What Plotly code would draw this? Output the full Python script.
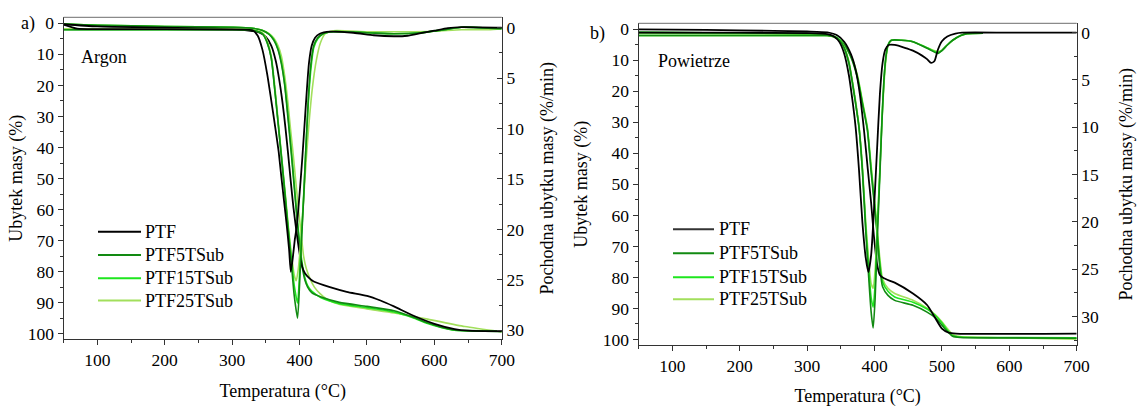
import plotly.graph_objects as go

# ---------------- data: panel a) Argon ----------------
names = ["PTF", "PTF5TSub", "PTF15TSub", "PTF25TSub"]
colors = ["#000000", "#128a12", "#1ee61e", "#a2df5c"]

# TG (mass loss, %), left axis
T_a_tg_ptf = [50, 100, 200, 300, 330, 340, 350, 358, 365, 370, 375, 379, 383, 387, 391, 396, 400, 404, 408, 414, 421, 445, 470, 500, 520, 540, 570, 600, 630, 650, 700]
TG_a_ptf = [0.3, 1.0, 1.4, 1.9, 2.5, 2.9, 4.4, 7.2, 12.4, 18.4, 26, 33.5, 42, 51, 59.5, 68, 74, 78.5, 80.5, 82, 83.2, 85, 86.5, 87.8, 89.3, 91.2, 94.3, 96.8, 98.5, 99.0, 99.2]
T_a_tg_g = [50, 100, 200, 300, 330, 345, 355, 362, 368, 373, 378, 383, 388, 392, 396, 400, 404, 408, 412, 418, 432, 459, 500, 540, 570, 590, 610, 630, 650, 700]
TG_a_5 = [0.2, 0.6, 1.0, 1.3, 1.6, 2.3, 3.6, 5.5, 8.5, 13, 20, 31, 42.5, 52.5, 62.5, 71.5, 78.5, 82.8, 85, 86.8, 88.2, 89.9, 91.2, 92.6, 94.8, 96.5, 97.9, 98.8, 99.0, 99.2]
TG_a_15 = [0.2, 0.6, 1.0, 1.3, 1.6, 2.3, 3.5, 5.3, 8.2, 12.5, 19.5, 30, 41.5, 51.5, 61.5, 70.5, 77.5, 82, 84.5, 86.3, 88.4, 90.3, 91.6, 93.0, 95.0, 96.7, 98.0, 98.9, 99.1, 99.3]
T_a_tg_25 = [50, 100, 200, 300, 330, 345, 355, 362, 368, 373, 378, 383, 386, 390, 394, 398, 402, 406, 410, 416, 422, 430, 440, 460, 500, 540, 590, 645, 700]
TG_a_25 = [0.2, 0.6, 1.0, 1.3, 1.6, 2.2, 3.3, 4.8, 7.2, 10.5, 17, 26, 32.8, 41, 50, 59, 67, 75, 79, 82.5, 85, 87, 88.8, 90.6, 92.0, 93.3, 95.3, 97.7, 99.4]

# DTG (derivative, %/min), right axis
T_a_dtg_ptf = [50, 70, 100, 200, 300, 330, 338, 345, 352, 358, 364, 369, 373, 377, 381, 384.5, 387, 390, 393, 396, 400, 404, 408, 411, 414, 418, 423, 430, 445, 480, 510, 540, 560, 580, 600, 620, 640, 700]
DTG_a_ptf = [-0.3, 0.1, 0.15, 0.15, 0.2, 0.25, 0.8, 2.2, 4.6, 7.2, 9.9, 12.3, 14.8, 17.2, 19.6, 22.0, 24.2, 22.8, 21.0, 19.6, 16.5, 13.0, 9.0, 6.0, 3.5, 1.8, 1.0, 0.6, 0.4, 0.5, 0.75, 0.85, 0.8, 0.55, 0.3, 0.05, -0.05, 0.0]
T_a_dtg_g = [50, 100, 200, 300, 330, 345, 352, 358, 363, 368.5, 374, 379, 383, 388, 392, 397, 400, 403, 406, 409, 413, 417, 421, 427, 435, 450, 500, 540, 580, 620, 640, 700]
DTG_a_5 = [0.2, 0.2, 0.2, 0.2, 0.25, 0.6, 1.5, 3.0, 6.0, 9.7, 13.5, 17.0, 20.0, 23.5, 26.5, 28.8, 25.5, 21.0, 17.0, 12.5, 7.0, 3.5, 1.8, 1.0, 0.6, 0.4, 0.5, 0.6, 0.5, 0.15, -0.05, 0.1]
DTG_a_15 = [0.2, 0.2, 0.2, 0.2, 0.25, 0.6, 1.5, 3.0, 6.0, 9.6, 13.3, 16.8, 19.7, 23.0, 25.5, 27.3, 24.5, 20.5, 16.8, 12.5, 7.5, 4.0, 2.0, 1.1, 0.6, 0.4, 0.5, 0.6, 0.5, 0.15, -0.05, 0.1]
T_a_dtg_25 = [50, 100, 200, 300, 330, 345, 352, 358, 363, 368.5, 374, 379, 383, 388, 392, 395, 398, 402, 406, 410, 414, 419, 425, 431, 438, 450, 500, 550, 600, 640, 680, 700]
DTG_a_25 = [0.1, 0.1, 0.15, 0.15, 0.2, 0.5, 1.3, 2.8, 5.6, 9.4, 13.2, 16.6, 19.5, 22.5, 24.5, 25.1, 24.0, 21.0, 17.0, 13.0, 9.5, 6.0, 3.2, 1.5, 0.6, 0.3, 0.4, 0.4, 0.35, 0.2, 0.2, 0.1]

# ---------------- data: panel b) Powietrze ----------------
T_b_tg_ptf = [50, 150, 250, 300, 330, 345, 355, 365, 372, 378, 384.4, 390, 395, 399, 404, 408, 414, 430, 457, 478, 489, 500, 510, 521, 700]
TG_b_ptf = [0.0, 0.2, 0.5, 0.7, 1.0, 2.0, 4.0, 8.0, 13, 20.5, 32.5, 45, 56, 66.4, 76, 79.2, 80.3, 81.7, 85.2, 88.9, 92.7, 96.5, 97.8, 98.1, 98.1]
T_b_tg_g = [50, 200, 300, 330, 345, 355, 365, 375, 382, 389.4, 395, 400, 404, 408, 412, 420, 430, 457, 478, 490, 500, 508, 516, 527, 600, 700]
TG_b_5 = [1.0, 1.2, 1.4, 1.8, 3.0, 5.0, 9.0, 16, 24, 32.5, 46, 57, 66.4, 77, 83, 85.8, 87.4, 89, 91.2, 93, 95.4, 97.4, 99, 99.4, 99.5, 99.6]
TG_b_15 = [1.0, 1.2, 1.4, 1.8, 2.8, 4.8, 8.6, 15.5, 23.5, 32, 45, 56, 65.5, 75.5, 81.5, 84.5, 86.3, 88, 90.2, 92.2, 94.6, 97, 98.8, 99.2, 99.4, 99.5]
TG_b_25 = [1.2, 1.4, 1.6, 2.0, 3.0, 4.8, 8.4, 15, 23, 31.5, 44, 55, 64.5, 74, 80.5, 83.5, 85.2, 87.4, 89.9, 92, 94.3, 96.5, 98.4, 99.1, 99.5, 99.9]

T_b_dtg_ptf = [50, 100, 200, 300, 330, 340, 348, 355, 362, 367, 372, 377, 382, 387, 391, 395, 399, 404, 408, 412, 416, 421, 430, 445, 457, 470, 478, 484, 489, 494, 500, 508, 520, 530, 600, 700]
DTG_b_ptf = [0.0, 0.0, 0.0, 0.05, 0.15, 0.4, 1.0, 2.2, 4.5, 7.0, 10.0, 14.5, 20.0, 23.8, 25.3, 23.5, 19.0, 12.0, 6.5, 3.2, 1.8, 1.3, 1.3, 1.6, 1.9, 2.4, 2.8, 3.2, 3.0, 1.8, 0.9, 0.4, 0.1, 0.0, 0.0, 0.0]
T_b_dtg_g = [50, 100, 200, 300, 330, 340, 348, 355, 362, 367, 372, 377, 382, 387, 392, 395, 398, 401, 404, 408, 411, 414, 417, 420, 425, 440, 457, 478, 494, 500, 508, 516, 528, 537, 561]
DTG_b_5 = [0.3, 0.3, 0.3, 0.3, 0.3, 0.4, 0.8, 1.6, 3.2, 5.2, 7.5, 10.0, 14.5, 21.0, 26.5, 29.5, 31.2, 28.0, 22.0, 15.0, 9.5, 5.0, 2.5, 1.3, 0.8, 0.8, 0.95, 1.65, 2.2, 1.9, 1.3, 0.8, 0.3, 0.1, 0.05]
DTG_b_15 = [0.3, 0.3, 0.3, 0.3, 0.3, 0.4, 0.8, 1.6, 3.2, 5.2, 7.5, 10.0, 14.5, 20.5, 25.5, 28.0, 29.0, 26.5, 21.0, 14.5, 9.2, 5.0, 2.5, 1.3, 0.8, 0.8, 0.95, 1.6, 2.1, 1.9, 1.3, 0.8, 0.3, 0.1, 0.05]
DTG_b_25 = [0.3, 0.3, 0.3, 0.3, 0.3, 0.4, 0.8, 1.5, 3.0, 5.0, 7.2, 9.8, 14.0, 20.0, 24.5, 26.5, 27.0, 25.0, 20.5, 14.5, 9.5, 5.5, 2.8, 1.4, 0.8, 0.8, 0.95, 1.6, 2.0, 1.85, 1.3, 0.8, 0.3, 0.1, 0.05]

panel_a = [
    (T_a_tg_ptf, TG_a_ptf, T_a_dtg_ptf, DTG_a_ptf),
    (T_a_tg_g, TG_a_5, T_a_dtg_g, DTG_a_5),
    (T_a_tg_g, TG_a_15, T_a_dtg_g, DTG_a_15),
    (T_a_tg_25, TG_a_25, T_a_dtg_25, DTG_a_25),
]
panel_b = [
    (T_b_tg_ptf, TG_b_ptf, T_b_dtg_ptf, DTG_b_ptf),
    (T_b_tg_g, TG_b_5, T_b_dtg_g, DTG_b_5),
    (T_b_tg_g, TG_b_15, T_b_dtg_g, DTG_b_15),
    (T_b_tg_g, TG_b_25, T_b_dtg_g, DTG_b_25),
]

FONT = "Liberation Serif"
W, H = 1137, 407
fig = go.Figure()

def add_panel(panel, xa, ytg, ydtg):
    order = [3, 2, 1, 0]
    for i in order:
        t1, v1, t2, v2 = panel[i]
        lw = 1.8 if i == 0 else 1.6
        fig.add_trace(go.Scatter(x=t2, y=v2, xaxis=xa, yaxis=ydtg, mode="lines", name=names[i] + " DTG",
                                 line=dict(color=colors[i], width=lw, shape="spline", smoothing=0.6),
                                 showlegend=False, hoverinfo="skip"))
    for i in order:
        t1, v1, t2, v2 = panel[i]
        lw = 1.8 if i == 0 else 1.6
        fig.add_trace(go.Scatter(x=t1, y=v1, xaxis=xa, yaxis=ytg, mode="lines", name=names[i],
                                 line=dict(color=colors[i], width=lw, shape="spline", smoothing=0.6),
                                 showlegend=False))

add_panel(panel_a, "x", "y", "y2")
add_panel(panel_b, "x2", "y3", "y4")

tickfont = dict(family=FONT, size=17.5, color="black")
titlefont = dict(family=FONT, size=18, color="black")
axcol = "#333333"

def xax(domain, anchor, standoff):
    return dict(domain=domain, anchor=anchor, range=[50, 700], dtick=100, tick0=0,
                ticks="outside", ticklen=5, tickwidth=1, tickcolor=axcol,
                minor=dict(dtick=50, tick0=0, ticks="outside", ticklen=3, tickcolor=axcol),
                showline=True, linecolor=axcol, linewidth=1.2, showgrid=False, zeroline=False,
                tickfont=tickfont, title=dict(text="Temperatura (°C)", font=titlefont, standoff=standoff),
                automargin=False)

def yleft(domain, anchor, rng, standoff):
    return dict(domain=domain, anchor=anchor, range=rng, dtick=10, tick0=0,
                ticks="outside", ticklen=5, tickwidth=1, tickcolor=axcol,
                minor=dict(dtick=5, tick0=0, ticks="outside", ticklen=3, tickcolor=axcol),
                showline=True, linecolor=axcol, linewidth=1.2, showgrid=False, zeroline=False,
                tickfont=tickfont, title=dict(text="Ubytek masy (%)", font=titlefont, standoff=standoff),
                automargin=False)

def yright(over, anchor, rng, standoff):
    return dict(overlaying=over, anchor=anchor, side="right", range=rng, dtick=5, tick0=0,
                ticks="inside", ticklen=5, tickwidth=1, tickcolor=axcol,
                minor=dict(dtick=2.5, tick0=0, ticks="inside", ticklen=3, tickcolor=axcol),
                showline=True, linecolor=axcol, linewidth=1.2, showgrid=False, zeroline=False,
                tickfont=tickfont, title=dict(text="Pochodna ubytku masy (%/min)", font=titlefont, standoff=standoff),
                automargin=False)

# manual legends (pixel positions)
leg_a = dict(x0=98, x1=141, tx=143, rows=[231.7, 255.0, 278.3, 300.5])
leg_b = dict(x0=673, x1=714, tx=717, rows=[229.3, 253.3, 277.3, 299.3])
shapes = [
    dict(type="line", xref="x domain", yref="y domain", x0=0, x1=1, y0=1, y1=1,
         line=dict(color="#8a8a8a", width=1.2)),
    dict(type="line", xref="x2 domain", yref="y3 domain", x0=0, x1=1, y0=1, y1=1,
         line=dict(color="#8a8a8a", width=1.2)),
]
annotations = [
    dict(text="a)", x=37 / W, y=1 - 23.3 / H, xanchor="right"),
    dict(text="Argon", x=79 / W, y=1 - 56.7 / H, xanchor="left"),
    dict(text="b)", x=607 / W, y=1 - 33.3 / H, xanchor="right"),
    dict(text="Powietrze", x=656 / W, y=1 - 61 / H, xanchor="left"),
]
for leg, pcol in ((leg_a, None), (leg_b, "#333333")):
    for i, yy in enumerate(leg["rows"]):
        c = colors[i] if (i > 0 or pcol is None) else pcol
        shapes.append(dict(type="line", xref="paper", yref="paper", x0=leg["x0"] / W, x1=leg["x1"] / W,
                           y0=1 - yy / H, y1=1 - yy / H, line=dict(color=c, width=2)))
        annotations.append(dict(text=names[i], x=leg["tx"] / W, y=1 - yy / H, xanchor="left"))
for a in annotations:
    a.update(xref="paper", yref="paper", yanchor="middle", showarrow=False,
             font=dict(family=FONT, size=18, color="black"))

fig.update_layout(
    width=W, height=H, template="none",
    paper_bgcolor="white", plot_bgcolor="white",
    margin=dict(l=0, r=0, t=0, b=0),
    font=dict(family=FONT, size=17, color="black"),
    showlegend=False,
    xaxis=xax([63.6 / W, 501.8 / W], "y", 14),
    yaxis=yleft([1 - 339.3 / H, 1 - 17.3 / H], "x", [101.8, -1.94], 0),
    yaxis2=yright("y", "x", [30.9, -1.03], 17),
    xaxis2=xax([638.6 / W, 1076.7 / W], "y3", 15),
    yaxis3=yleft([1 - 345 / H, 1 - 23.3 / H], "x2", [101.8, -1.94], 10),
    yaxis4=yright("y3", "x2", [33.0, -0.99], 21),
    annotations=annotations,
    shapes=shapes,
)

fig.write_html("out.html", config={"displayModeBar": False},
               post_script="document.body.style.margin='0px';document.body.style.overflow='hidden';")
